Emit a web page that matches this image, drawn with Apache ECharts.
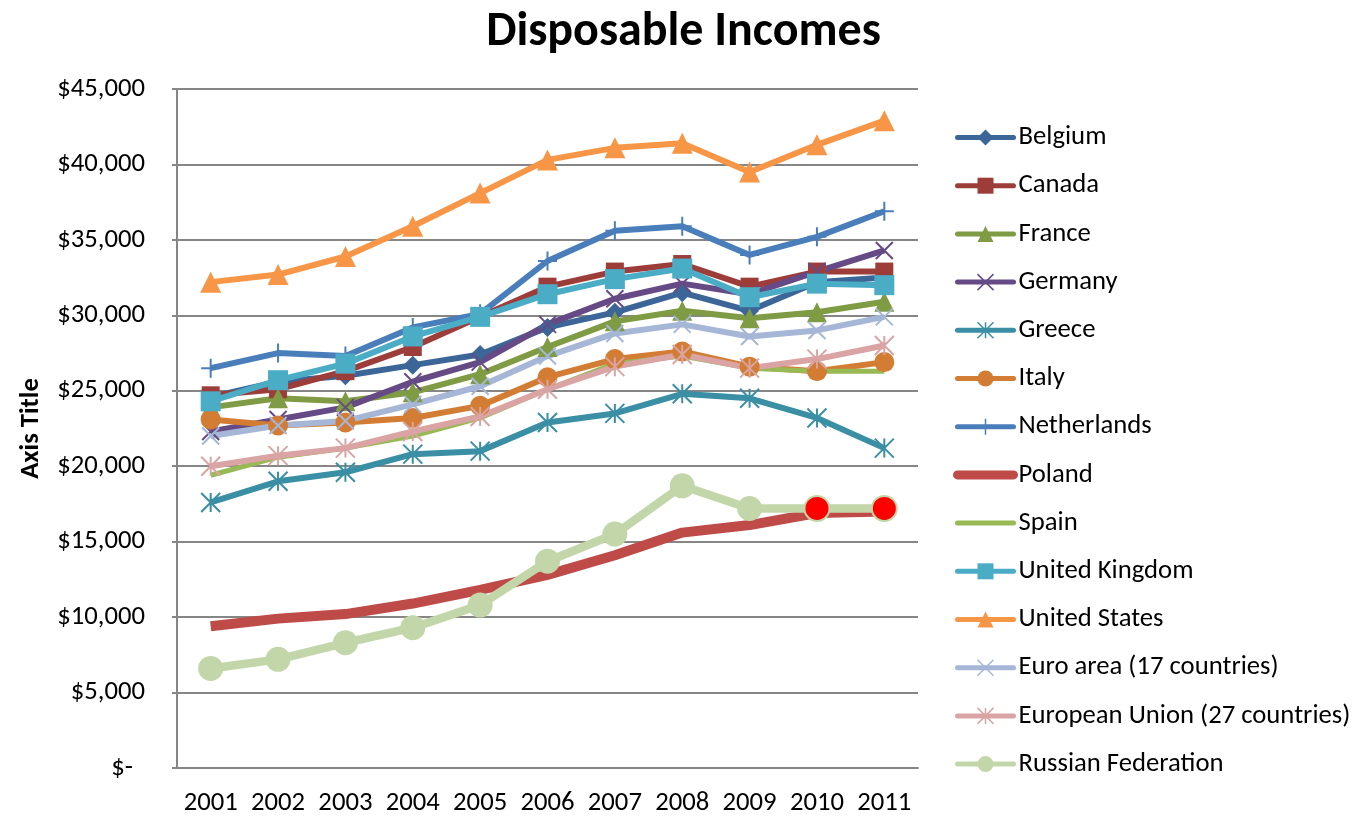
<!DOCTYPE html>
<html>
<head>
<meta charset="utf-8">
<script src="https://cdn.jsdelivr.net/npm/echarts@6/dist/echarts.min.js"></script>
<style>
  html, body { margin: 0; padding: 0; background: #fff; }
  #main { width: 1367px; height: 817px; }
</style>
</head>
<body>
<div id="main"></div>
<script>
// 年份
var years = ['2001', '2002', '2003', '2004', '2005', '2006', '2007', '2008', '2009', '2010', '2011'];

// 各国可支配收入
var belgium     = [24600, 25600, 26000, 26700, 27400, 29200, 30200, 31500, 30300, 32200, 32500];
var canada      = [24700, 25100, 26300, 27900, 29900, 31900, 32900, 33400, 31900, 32900, 32900];
var france      = [23900, 24500, 24300, 24900, 26100, 27900, 29600, 30300, 29800, 30200, 30900];
var germany     = [22300, 23100, 23900, 25600, 26900, 29400, 31100, 32100, 31400, 32900, 34300];
var greece      = [17600, 19000, 19600, 20800, 21000, 22900, 23500, 24800, 24500, 23200, 21200];
var italy       = [23100, 22700, 22900, 23200, 24000, 25900, 27100, 27600, 26600, 26300, 26900];
var netherlands = [26500, 27500, 27300, 29200, 30100, 33600, 35600, 35900, 34000, 35200, 36900];
var poland      = [9400, 9900, 10200, 10900, 11800, 12800, 14100, 15600, 16100, 16900, 17000];
var spain       = [19400, 20600, 21200, 22000, 23200, 25100, 26800, 27300, 26500, 26300, 26300];
var uk          = [24300, 25700, 26800, 28600, 29900, 31400, 32400, 33100, 31200, 32100, 32000];
var us          = [32200, 32700, 33900, 35900, 38100, 40300, 41100, 41400, 39500, 41300, 42900];
var euroArea    = [22000, 22700, 23000, 24100, 25300, 27300, 28800, 29400, 28600, 29000, 29900];
var eu27        = [20000, 20700, 21200, 22300, 23300, 25100, 26600, 27400, 26500, 27100, 28000];
var russia      = [6600, 7200, 8300, 9300, 10800, 13700, 15500, 18700, 17200, 17200, 17200];

var FONT = 'Carlito, "Open Sans", sans-serif';
var FS = 26.7;

// 自定义标记形状
var X_MARK = 'path://M0,0L10,10M10,0L0,10';
var PLUS_MARK = 'path://M5,0L5,10M0,5L10,5';
var STAR_MARK = 'path://M5,0L5,10M0,0L10,10M10,0L0,10';

var legendItems = [];

function lineSeries(name, data, color, symbol, symbolSize, width, stroked) {
    var s = {
        name: name,
        type: 'line',
        data: data,
        symbol: symbol,
        symbolSize: symbolSize,
        showSymbol: symbol !== 'none',
        lineStyle: { color: color, width: width },
        itemStyle: { color: color },
        emphasis: { disabled: true },
        animation: false
    };
    if (stroked) {
        s.itemStyle = { color: 'rgba(0,0,0,0)', borderColor: color, borderWidth: 2 };
    }
    var item = { name: name, lineStyle: { width: symbol === 'none' && width > 7 ? 9 : 5, cap: 'round' } };
    if (symbol === 'none') {
        item.itemStyle = { color: 'rgba(0,0,0,0)', borderWidth: 0 };
    } else if (stroked) {
        item.itemStyle = { color: 'rgba(0,0,0,0)', borderColor: color, borderWidth: 1.5 };
    }
    legendItems.push(item);
    return s;
}

// 俄罗斯最后两个点标红
var russiaData = russia.map(function (v, i) {
    if (i >= 9) {
        return { value: v, itemStyle: { color: '#ff0000', borderColor: '#c3d6a9', borderWidth: 2 } };
    }
    return v;
});

var seriesList = [
    lineSeries('Belgium', belgium, '#3c6698', 'diamond', 19, 6),
    lineSeries('Canada', canada, '#9d3d3a', 'rect', 18, 6),
    lineSeries('France', france, '#7f9b44', 'triangle', 20, 6),
    lineSeries('Germany', germany, '#664a85', X_MARK, 17, 6, true),
    lineSeries('Greece', greece, '#3a8fa4', STAR_MARK, 19, 6, true),
    lineSeries('Italy', italy, '#d37c33', 'circle', 20, 6),
    lineSeries('Netherlands', netherlands, '#4a7ebb', PLUS_MARK, 19, 6, true),
    lineSeries('Poland', poland, '#be4b48', 'none', 0, 10),
    lineSeries('Spain', spain, '#98b954', 'none', 0, 5),
    lineSeries('United Kingdom', uk, '#4bacc6', 'rect', 20, 6),
    lineSeries('United States', us, '#f79646', 'triangle', 21, 6),
    lineSeries('Euro area (17 countries)', euroArea, '#a5b6d6', X_MARK, 17, 6, true),
    lineSeries('European Union (27 countries)', eu27, '#d9a4a3', STAR_MARK, 19, 6, true),
    lineSeries('Russian Federation', russiaData, '#c3d6a9', 'circle', 25, 8.5)
];

var myChart = echarts.init(document.getElementById('main'));
myChart.setOption({
    backgroundColor: '#fff',
    title: {
        text: 'Disposable Incomes',
        left: 'center',
        top: 4,
        textStyle: { fontFamily: FONT, fontSize: 48, fontWeight: 'bold', color: '#000' }
    },
    legend: {
        orient: 'vertical',
        left: 953,
        top: 124,
        padding: 0,
        height: 720,
        itemWidth: 56,
        itemHeight: 20,
        itemGap: 21.2,
        textStyle: { fontFamily: FONT, fontSize: FS, color: '#000' },
        data: legendItems
    },
    grid: { left: 177, right: 449, top: 89, bottom: 47, containLabel: false },
    xAxis: {
        type: 'category',
        data: years,
        boundaryGap: true,
        axisLine: { lineStyle: { color: '#868686', width: 2 } },
        axisTick: { show: false },
        axisLabel: { interval: 0, fontFamily: FONT, fontSize: FS, color: '#000', margin: 22 }
    },
    yAxis: {
        type: 'value',
        min: 0,
        max: 45000,
        interval: 5000,
        name: 'Axis Title',
        nameLocation: 'middle',
        nameGap: 132,
        nameTextStyle: { fontFamily: FONT, fontSize: FS, fontWeight: 'bold', color: '#000' },
        axisLine: { show: true, lineStyle: { color: '#868686', width: 2 } },
        axisTick: { show: true, length: 5, lineStyle: { color: '#868686', width: 2 } },
        splitLine: { lineStyle: { color: '#868686', width: 2 } },
        axisLabel: {
            fontFamily: FONT, fontSize: FS, color: '#000', margin: 32,
            formatter: function (v) {
                if (v === 0) return '{z|$-}';
                return '$' + v.toLocaleString('en-US');
            },
            rich: { z: { fontFamily: FONT, fontSize: FS, color: '#000', padding: [0, 12, 0, 0] } }
        }
    },
    series: seriesList
});
</script>
</body>
</html>
